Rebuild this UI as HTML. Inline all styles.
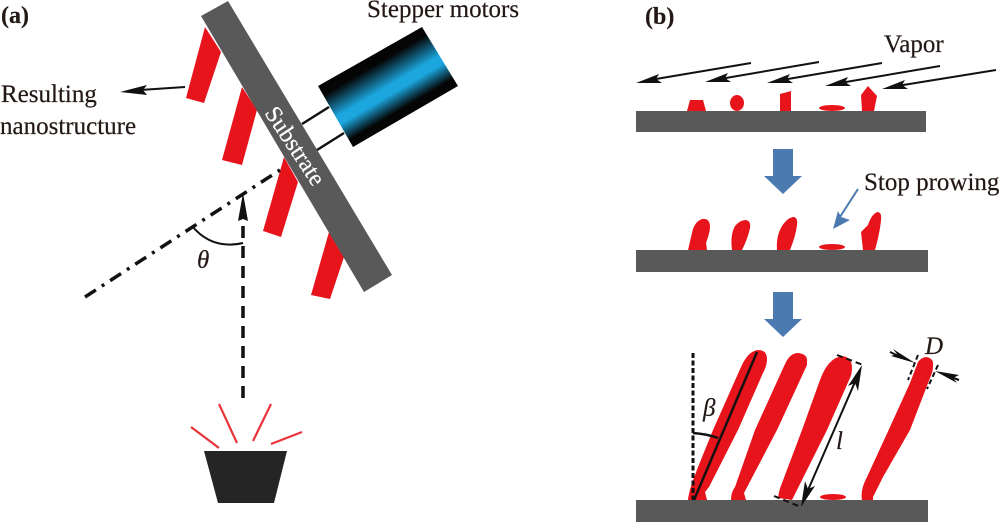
<!DOCTYPE html>
<html><head><meta charset="utf-8"><style>
html,body{margin:0;padding:0;background:#fff;width:1000px;height:522px;overflow:hidden}
svg{display:block}
text{font-family:"Liberation Serif",serif;fill:#231815;font-size:25px;stroke:#231815;stroke-width:.2px}
.r{fill:#e8141c}
.g{fill:#595959}
.k{stroke:#111;fill:none}
</style></head><body>
<svg width="1000" height="522" viewBox="0 0 1000 522" xmlns="http://www.w3.org/2000/svg">
<defs>
<linearGradient id="m" gradientUnits="userSpaceOnUse" x1="370" y1="56.500" x2="405.500" y2="116.500">
<stop offset="0" stop-color="#050505"/><stop offset=".14" stop-color="#050505"/><stop offset=".5" stop-color="#1ba6de"/><stop offset=".62" stop-color="#1ba6de"/><stop offset=".88" stop-color="#050505"/><stop offset="1" stop-color="#050505"/>
</linearGradient>
</defs>
<rect width="1000" height="522" fill="#fff"/>

<!-- panel a -->
<text x="1" y="23" font-weight="bold" style="font-size:24px">(a)</text>
<text x="1" y="102">Resulting</text>
<text x="0" y="134">nanostructure</text>
<text x="367" y="17">Stepper motors</text>

<polygon class="r" points="205,27 221,52 204,103 186,98"/>
<polygon class="r" points="242,87 257,110 242,165 222,160"/>
<polygon class="r" points="284,157 298,182 281,237 263,231"/>
<polygon class="r" points="329,232 344,257 330,299 311,295"/>

<line x1="302" y1="124" x2="329" y2="107" stroke="#111" stroke-width="2.500"/>
<line x1="317" y1="150" x2="344" y2="133" stroke="#111" stroke-width="2.500"/>
<polygon points="318,86 422,27 458,86 353,147" fill="url(#m)"/>
<polygon class="g" points="201,16 228,1 392,275 364,292"/>
<text transform="translate(264,113) rotate(56.500)" style="fill:#fff;stroke:#fff;font-size:24px">Substrate</text>

<line x1="85" y1="297" x2="280" y2="170" stroke="#111" stroke-width="3.500" stroke-dasharray="13,7,3,7"/>
<line x1="243" y1="398" x2="243" y2="218" stroke="#111" stroke-width="3.500" stroke-dasharray="12,8"/>
<polygon points="243,193 248,221 243,219 238,221" fill="#111"/>
<path d="M192,226 Q212,250 243,243" class="k" stroke-width="2"/>
<text x="197" y="268" font-style="italic">θ</text>

<polygon points="204,451 287,451 274,503 218,503" fill="#252525"/>
<g stroke="#e8343a" stroke-width="2.200" fill="none">
<line x1="191" y1="427" x2="219" y2="448"/>
<line x1="219" y1="404" x2="237" y2="443"/>
<line x1="271" y1="404" x2="253" y2="441"/>
<line x1="302" y1="432" x2="271" y2="444"/>
</g>
<line x1="185" y1="87" x2="140" y2="90" stroke="#111" stroke-width="2"/>
<polygon points="120,92 147,85 143,90 147,95" fill="#111"/>

<!-- panel b -->
<text x="645" y="24" font-weight="bold" style="font-size:24px">(b)</text>
<text x="884" y="52">Vapor</text>
<text x="864" y="190">Stop prowing</text>

<rect class="g" x="636" y="111" width="290" height="21"/>
<rect class="g" x="636" y="250" width="292" height="22"/>
<rect class="g" x="636" y="500" width="292" height="22"/>

<g stroke="#111" stroke-width="2">
<line x1="751" y1="63" x2="650" y2="80"/>
<line x1="819" y1="62" x2="720" y2="79"/>
<line x1="882" y1="63" x2="782" y2="80"/>
<line x1="940" y1="66" x2="840" y2="83"/>
<line x1="996" y1="70" x2="897" y2="86"/>
</g>
<g fill="#111">
<polygon points="636,83 659,74 656,79 662,83"/>
<polygon points="705,82 728,73 725,78 731,82"/>
<polygon points="767,83 790,74 787,79 793,83"/>
<polygon points="825,86 848,77 845,82 851,86"/>
<polygon points="882,89 905,80 902,85 908,89"/>
</g>

<polygon class="r" points="687,111 690,100 703,100 706,111"/>
<ellipse class="r" cx="737" cy="103" rx="7" ry="8"/>
<polygon class="r" points="780,111 780,94 791,91 791,111"/>
<ellipse class="r" cx="832" cy="108" rx="13" ry="3"/>
<polygon class="r" points="862,111 861,95 868,86 877,96 874,111"/>

<polygon points="773,149 793,149 793,176 802,176 783,194 764,176 773,176" fill="#4a7ab0"/>
<polygon points="773,292 793,292 793,319 802,319 783,337 764,319 773,319" fill="#4a7ab0"/>

<line x1="858" y1="189" x2="838" y2="220" stroke="#4a7ab0" stroke-width="2"/>
<polygon points="833,229 838,211 841,217 850,220" fill="#4a7ab0"/>

<path class="r" d="M688,250 L692,233 Q694,222 702,219 Q710,218 710,227 Q710,232 706,243 L707,250Z"/>
<path class="r" d="M732,250 Q730,235 735,226 Q740,220 746,220 Q751,221 750,228 Q748,238 742,250Z"/>
<path class="r" d="M777,250 Q776,236 782,226 Q788,217 794,217 Q798,218 797,225 Q796,235 790,250Z"/>
<path class="r" d="M863,250 L861,232 L868,225 Q872,213 878,212 Q882,213 881,220 Q880,232 875,250Z"/>
<ellipse class="r" cx="832" cy="247" rx="13" ry="3"/>

<path class="r" d="M688,500 C690,485 697,470 713,430 L741,367 Q748,351 758,350 Q767,350 767,359 Q767,366 763,373 L738,430 L709,487 L705,492 L707,500Z"/>
<path class="r" d="M731,500 Q731,492 735,487 L755,430 L785,364 Q790,353 798,353 Q808,354 807,362 L807,365 L777,430 L744,493 L746,500Z"/>
<path class="r" d="M778,498 Q779,490 782,483 L802,430 L820,380 Q828,358 842,356 Q852,357 852,368 Q852,374 850,378 L827,430 L797,490 L792,500Z"/>
<path class="r" d="M862,500 Q860,490 867,477 L890,427 L910,383 L918,362 Q922,357 926,357 Q934,358 933,366 Q933,372 930,378 L910,430 L883,477 L873,497 L873,500Z"/>
<ellipse class="r" cx="833" cy="497" rx="13" ry="3"/>

<line x1="693" y1="353" x2="693" y2="500" stroke="#111" stroke-width="3" stroke-dasharray="5,2.500"/>
<line x1="757" y1="352" x2="694" y2="500" stroke="#111" stroke-width="2.500"/>
<path d="M693,433 Q707,434 718,438" class="k" stroke-width="2.500"/>
<text x="703" y="416" font-style="italic">β</text>
<text x="836" y="449" font-style="italic">l</text>
<text x="925" y="354" font-style="italic">D</text>

<line x1="837" y1="355" x2="863" y2="365" stroke="#111" stroke-width="2" stroke-dasharray="6,4"/>
<line x1="774" y1="496" x2="801" y2="507" stroke="#111" stroke-width="2" stroke-dasharray="6,4"/>
<line x1="858" y1="375" x2="805" y2="497" stroke="#111" stroke-width="2"/>
<polygon points="862,365 858,391 855,383 848,386" fill="#111"/>
<polygon points="801,507 805,481 808,489 815,486" fill="#111"/>

<line x1="918" y1="355" x2="908" y2="380" stroke="#111" stroke-width="2" stroke-dasharray="5,3"/>
<line x1="938" y1="365" x2="927" y2="389" stroke="#111" stroke-width="2" stroke-dasharray="5,3"/>
<line x1="890" y1="352" x2="905" y2="359" stroke="#111" stroke-width="2"/>
<line x1="959" y1="380" x2="945" y2="375" stroke="#111" stroke-width="2"/>
<polygon points="915,363 891,356 897,354 893,349" fill="#111"/>
<polygon points="935,371 959,375 953,378 957,383" fill="#111"/>
</svg>
</body></html>
